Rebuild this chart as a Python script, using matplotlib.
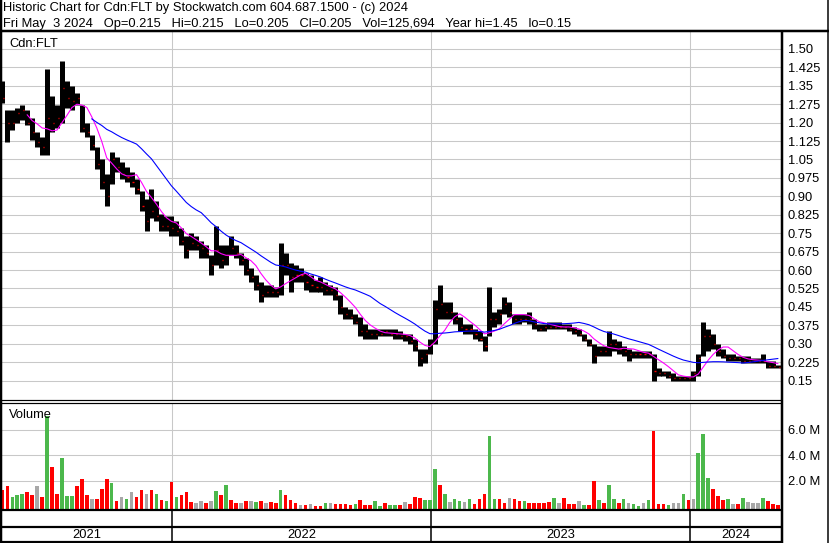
import numpy as np
import pandas as pd
import matplotlib
matplotlib.use("Agg")
import matplotlib.pyplot as plt
import matplotlib.dates as mdates
from matplotlib.lines import Line2D
from datetime import datetime

plt.rcParams['font.family'] = ['Liberation Sans', 'DejaVu Sans']

# weekly bars (week ending Friday)
week_end = pd.date_range('2021-05-07', periods=157, freq='W-FRI')

high = [1.37, 1.25, 1.25, 1.26, 1.27, 1.25, 1.22, 1.16, 1.14, 1.42,
        1.31, 1.27, 1.45, 1.37, 1.35, 1.32, 1.27, 1.20, 1.15, 1.10,
        1.05, 0.99, 1.08, 1.06, 1.04, 1.02, 1.00, 0.97, 0.92, 0.89,
        0.93, 0.88, 0.83, 0.82, 0.82, 0.80, 0.77, 0.74, 0.75, 0.74,
        0.72, 0.70, 0.66, 0.78, 0.70, 0.70, 0.74, 0.70, 0.67, 0.65,
        0.61, 0.58, 0.55, 0.54, 0.54, 0.53, 0.71, 0.67, 0.63, 0.62,
        0.61, 0.59, 0.58, 0.56, 0.57, 0.55, 0.54, 0.53, 0.50, 0.45,
        0.44, 0.42, 0.41, 0.38, 0.36, 0.36, 0.36, 0.36, 0.36, 0.36,
        0.35, 0.34, 0.34, 0.32, 0.28, 0.28, 0.32, 0.48, 0.54, 0.47,
        0.47, 0.43, 0.41, 0.38, 0.38, 0.36, 0.35, 0.33, 0.53, 0.43,
        0.44, 0.49, 0.47, 0.42, 0.42, 0.42, 0.43, 0.40, 0.38, 0.38,
        0.39, 0.39, 0.39, 0.38, 0.38, 0.37, 0.36, 0.34, 0.32, 0.30,
        0.29, 0.29, 0.35, 0.32, 0.31, 0.29, 0.28, 0.27, 0.27, 0.27,
        0.27, 0.26, 0.20, 0.19, 0.19, 0.18, 0.17, 0.17, 0.17, 0.19,
        0.26, 0.39, 0.36, 0.34, 0.30, 0.28, 0.26, 0.26, 0.25, 0.25,
        0.25, 0.24, 0.24, 0.26, 0.23, 0.23, 0.215]
low = [1.28, 1.12, 1.17, 1.20, 1.21, 1.19, 1.13, 1.10, 1.07, 1.07,
       1.16, 1.18, 1.20, 1.26, 1.25, 1.27, 1.16, 1.14, 1.09, 1.01,
       0.93, 0.86, 0.95, 1.00, 0.97, 0.96, 0.94, 0.91, 0.84, 0.76,
       0.81, 0.80, 0.76, 0.76, 0.74, 0.74, 0.70, 0.65, 0.68, 0.68,
       0.65, 0.65, 0.58, 0.62, 0.61, 0.62, 0.66, 0.65, 0.62, 0.58,
       0.55, 0.52, 0.47, 0.49, 0.49, 0.49, 0.50, 0.58, 0.51, 0.55,
       0.55, 0.52, 0.51, 0.51, 0.51, 0.50, 0.50, 0.48, 0.42, 0.40,
       0.40, 0.38, 0.33, 0.32, 0.32, 0.32, 0.33, 0.33, 0.33, 0.32,
       0.32, 0.31, 0.30, 0.27, 0.21, 0.22, 0.26, 0.30, 0.40, 0.40,
       0.40, 0.38, 0.35, 0.34, 0.34, 0.32, 0.31, 0.27, 0.33, 0.37,
       0.38, 0.42, 0.41, 0.38, 0.38, 0.39, 0.38, 0.36, 0.35, 0.35,
       0.36, 0.36, 0.36, 0.36, 0.35, 0.34, 0.33, 0.31, 0.29, 0.22,
       0.25, 0.25, 0.25, 0.27, 0.26, 0.25, 0.23, 0.24, 0.24, 0.24,
       0.24, 0.15, 0.17, 0.17, 0.16, 0.15, 0.15, 0.15, 0.15, 0.15,
       0.17, 0.25, 0.27, 0.28, 0.25, 0.24, 0.23, 0.23, 0.23, 0.22,
       0.22, 0.22, 0.22, 0.22, 0.20, 0.20, 0.20]
close = [1.30, 1.20, 1.20, 1.24, 1.25, 1.20, 1.16, 1.12, 1.10, 1.22,
         1.20, 1.22, 1.34, 1.30, 1.29, 1.30, 1.18, 1.16, 1.11, 1.03,
         0.96, 0.90, 1.05, 1.02, 0.99, 0.98, 0.96, 0.93, 0.86, 0.80,
         0.84, 0.82, 0.78, 0.78, 0.77, 0.76, 0.72, 0.68, 0.71, 0.70,
         0.69, 0.67, 0.62, 0.68, 0.64, 0.66, 0.69, 0.67, 0.64, 0.60,
         0.57, 0.54, 0.50, 0.51, 0.51, 0.51, 0.62, 0.62, 0.57, 0.58,
         0.58, 0.55, 0.54, 0.53, 0.53, 0.52, 0.52, 0.50, 0.45, 0.42,
         0.41, 0.39, 0.35, 0.35, 0.34, 0.34, 0.34, 0.35, 0.34, 0.34,
         0.33, 0.33, 0.31, 0.29, 0.24, 0.26, 0.30, 0.44, 0.46, 0.43,
         0.43, 0.40, 0.37, 0.36, 0.36, 0.34, 0.32, 0.29, 0.40, 0.40,
         0.42, 0.46, 0.43, 0.40, 0.40, 0.40, 0.40, 0.38, 0.36, 0.37,
         0.37, 0.37, 0.37, 0.37, 0.36, 0.35, 0.34, 0.32, 0.30, 0.25,
         0.27, 0.27, 0.30, 0.30, 0.28, 0.27, 0.26, 0.26, 0.26, 0.26,
         0.26, 0.19, 0.18, 0.18, 0.17, 0.16, 0.16, 0.16, 0.16, 0.18,
         0.24, 0.33, 0.33, 0.30, 0.27, 0.25, 0.24, 0.24, 0.24, 0.23,
         0.23, 0.23, 0.23, 0.23, 0.21, 0.21, 0.205]

# biggest daily volume of each week, millions
volume = [1.3, 1.6, 0.75, 0.9, 0.95, 1.1, 0.9, 1.6, 0.75, 7.1,
          3.1, 1.0, 3.8, 0.8, 0.85, 1.6, 2.15, 0.9, 0.6, 0.6,
          1.35, 2.15, 1.85, 0.45, 0.75, 0.6, 1.15, 0.75, 1.25, 0.95,
          1.25, 1.0, 0.5, 0.4, 1.95, 0.75, 0.9, 1.1, 0.35, 0.25,
          0.4, 0.25, 0.4, 1.2, 0.9, 1.7, 0.5, 0.25, 0.25, 0.4,
          0.45, 0.35, 0.4, 0.25, 0.35, 0.25, 1.25, 0.9, 0.5, 0.25,
          0.1, 0.15, 0.2, 0.05, 0.05, 0.25, 0.25, 0.2, 0.2, 0.2,
          0.15, 0.2, 0.5, 0.15, 0.1, 0.4, 0.05, 0.25, 0.15, 0.15,
          0.15, 0.35, 0.2, 0.75, 0.7, 0.5, 0.5, 2.9, 1.7, 0.95,
          0.35, 0.55, 0.4, 0.35, 0.6, 0.2, 0.55, 0.95, 5.55, 0.55,
          0.55, 0.3, 0.65, 0.55, 0.45, 0.4, 0.25, 0.3, 0.25, 0.25,
          0.35, 0.7, 0.25, 0.65, 0.2, 0.2, 0.4, 0.1, 0.1, 2.0,
          0.5, 0.25, 1.7, 0.55, 0.25, 0.55, 0.3, 0.2, 0.05, 0.25,
          0.5, 5.9, 0.2, 0.2, 0.1, 0.25, 0.3, 0.95, 0.5, 0.55,
          4.2, 5.7, 2.2, 1.4, 0.85, 0.5, 0.55, 0.2, 0.2, 0.7,
          0.35, 0.3, 0.3, 0.65, 0.4, 0.2, 0.13]
# g = up day, r = down day, n = unchanged
vol_dir = list("rrgggrrnrg" "rrgggrrrnr" "rrgrngnrrn" "rgrgrgrrrn"
               "nrngrgrrnr" "ngrnrrgrrr" "nrnrrgnrrr" "rgrrrggrgg"
               "rnrrrgggrg" "nggngrrrgg" "rrnrrgrrrr" "rgnrrrngrr"
               "grggrgnggn" "grrrgnngrn" "gggrrrgnrg" "nnngrrr")

price_ticks = [1.50, 1.425, 1.35, 1.275, 1.20, 1.125, 1.05, 0.975, 0.90, 0.825,
               0.75, 0.675, 0.60, 0.525, 0.45, 0.375, 0.30, 0.225, 0.15]
price_labels = ["1.50", "1.425", "1.35", "1.275", "1.20", "1.125", "1.05", "0.975", "0.90",
                "0.825", "0.75", "0.675", "0.60", "0.525", "0.45", "0.375", "0.30", "0.225", "0.15"]
vol_ticks = [2, 4, 6]
vol_labels = ["2.0 M", "4.0 M", "6.0 M"]

header1 = "Historic Chart for Cdn:FLT by Stockwatch.com 604.687.1500 - (c) 2024"
header2 = "   ".join(["Fri May  3 2024", "Op=0.215", "Hi=0.215", "Lo=0.205", "Cl=0.205",
                      "Vol=125,694", "Year hi=1.45", "lo=0.15"])

W, H = 830, 543
fig = plt.figure(figsize=(W / 100, H / 100), dpi=100)
fig.patch.set_facecolor('white')
FS = 9.3
GRID = '#c8c8c8'
GREEN = '#4cb84c'
GRAY = '#a8a8a8'


def px_axes(l, t, r, b):
    return fig.add_axes([l / W, 1 - b / H, (r - l) / W, (b - t) / H])


def px_line(x0, y0, x1, y1, lw=1.0, color='black'):
    fig.add_artist(Line2D([x0 / W, x1 / W], [1 - y0 / H, 1 - y1 / H],
                          transform=fig.transFigure, lw=lw * 0.72, color=color,
                          solid_capstyle='butt'))


x = mdates.date2num(week_end)
xmin = mdates.date2num(datetime(2021, 5, 6, 12))
xmax = mdates.date2num(datetime(2024, 5, 7, 12))
year_starts = [mdates.date2num(datetime(y, 1, 1)) for y in (2022, 2023, 2024)]

# price panel
ax = px_axes(2, 32, 781, 400)
ax.set_xlim(xmin, xmax)
ax.set_ylim(0.071, 1.569)
for p in price_ticks:
    ax.axhline(p, color=GRID, lw=0.75, zorder=0)
for ys in year_starts:
    ax.axvline(ys, color=GRID, lw=0.75, zorder=0)

ax.vlines(x, low, high, color='black', lw=3.6, zorder=2)
ax.hlines(close, x + 1.2, x + 2.8, color='red', lw=1.0, zorder=3)

closes = pd.Series(close)
ma_fast = closes.rolling(6).mean()
ma_slow = closes.rolling(19).mean()
ax.plot(x, ma_fast, color='#ff00ff', lw=0.8, zorder=4)
ax.plot(x, ma_slow, color='#0000ff', lw=0.8, zorder=4)

ax.set_yticks(price_ticks)
ax.set_yticklabels(price_labels, fontsize=FS)
ax.yaxis.tick_right()
ax.tick_params(axis='y', length=0, pad=5)
ax.set_xticks([])
for s in ax.spines.values():
    s.set_visible(False)

# volume panel
av = px_axes(2, 403, 781, 509)
av.set_xlim(xmin, xmax)
av.set_ylim(-0.2, 8.1)
for v in vol_ticks:
    av.axhline(v, color=GRID, lw=0.75, zorder=0)
for ys in year_starts:
    av.axvline(ys, color=GRID, lw=0.75, zorder=0)
cmap = {'g': GREEN, 'r': '#ff0000', 'n': GRAY}
colors = [cmap[c] for c in vol_dir]
av.bar(x, np.array(volume) + 0.2, bottom=-0.2, width=5.0, color=colors, zorder=2)
av.set_yticks(vol_ticks)
av.set_yticklabels(vol_labels, fontsize=FS)
av.yaxis.tick_right()
av.tick_params(axis='y', length=0, pad=5)
av.set_xticks([])
for s in av.spines.values():
    s.set_visible(False)

# date strip
ad = px_axes(2, 509, 781, 541)
ad.set_xlim(xmin, xmax)
ad.set_ylim(0, 1)
ad.axis('off')
for ys in year_starts:
    ad.axvline(ys, color='black', lw=1.1)
bounds = [xmin] + year_starts + [xmax]
for i, yr in enumerate((2021, 2022, 2023, 2024)):
    ad.text((bounds[i] + bounds[i + 1]) / 2, 0.08, str(yr), ha='center',
            va='baseline', fontsize=FS)

# frame lines
px_line(0, 31, 829, 31, lw=2.5)
px_line(1, 0, 1, 543, lw=2.5)
px_line(828, 0, 828, 543, lw=1.5)
px_line(782, 31, 782, 543, lw=2.5)
px_line(0, 400, 782, 400, lw=1.2)
px_line(0, 403, 782, 403, lw=1.2)
px_line(0, 509.5, 782, 509.5, lw=2.2)
px_line(0, 527, 782, 527, lw=2.2)
px_line(0, 541.5, 782, 541.5, lw=2.2)

# texts
fig.text(3 / W, 1 - 11 / H, header1, fontsize=FS, va='baseline')
fig.text(3 / W, 1 - 27.5 / H, header2, fontsize=FS, va='baseline')
fig.text(9 / W, 1 - 46.5 / H, "Cdn:FLT", fontsize=FS, va='baseline')
fig.text(9 / W, 1 - 418 / H, "Volume", fontsize=FS, va='baseline')

fig.savefig('out.png', dpi=100, facecolor='white')
